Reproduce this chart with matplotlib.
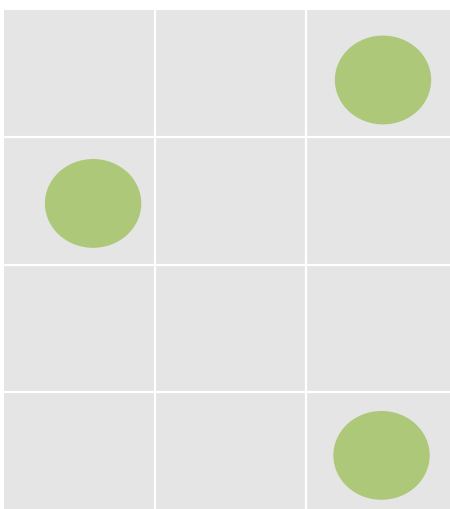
import matplotlib
matplotlib.use("Agg")
import matplotlib.pyplot as plt
from matplotlib.patches import Ellipse

# grid of 3 columns x 4 rows, points placed in data coordinates
n_cols = 3
n_rows = 4
x_vals = [2.51, 0.59, 2.50]
y_vals = [0.55, 1.52, 3.50]

fig = plt.figure(figsize=(4.5, 5.1), dpi=100)
ax = fig.add_axes([4 / 450, -10 / 510, 453 / 450, 509 / 510])
ax.set_facecolor("#e5e5e5")

ax.set_xlim(0, n_cols)
ax.set_ylim(n_rows, 0)
ax.set_xticks(range(1, n_cols))
ax.set_yticks(range(1, n_rows))
ax.grid(True, color="white", linewidth=1.6)
ax.set_axisbelow(True)
ax.tick_params(length=0, labelbottom=False, labelleft=False)
for s in ax.spines.values():
    s.set_visible(False)

for x, y in zip(x_vals, y_vals):
    ax.add_patch(Ellipse((x, y), 0.638, 0.698, facecolor="#adc878", edgecolor="none", zorder=3))

fig.savefig("out.png", dpi=100)
